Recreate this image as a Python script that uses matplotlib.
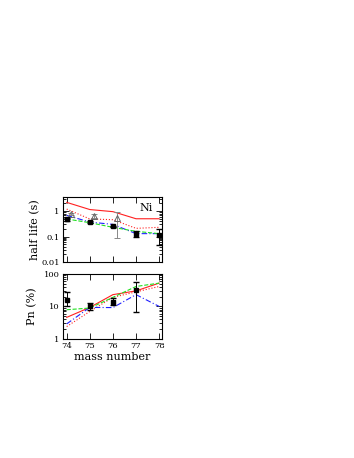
import matplotlib
matplotlib.use("Agg")
import matplotlib.pyplot as plt
from matplotlib.ticker import LogLocator, NullFormatter, FixedLocator

plt.rcParams['font.family'] = ['DejaVu Serif']

mass = [74, 75, 76, 77, 78]

# half-life (s)
hl_red = [2.2, 1.15, 0.95, 0.5, 0.5]
hl_red_dot = [1.2, 0.49, 0.46, 0.21, 0.23]
hl_blue = [0.68, 0.37, 0.30, 0.13, 0.13]
hl_green = [0.49, 0.35, 0.23, 0.16, 0.13]
hl_exp = [0.48, 0.37, 0.25, 0.125, 0.11]
hl_exp_lo = [0.42, 0.34, 0.23, 0.10, 0.046]
hl_exp_hi = [0.55, 0.40, 0.27, 0.16, 0.19]
tri_mass = [74.17, 75.17, 76.17]
tri_hl = [0.76, 0.64, 0.52]
tri_lo = [0.68, 0.55, 0.087]
tri_hi = [0.85, 0.74, 0.94]

# Pn (%)
pn_red = [4.6, 9.3, 23, 30, 52]
pn_red_dot = [2.4, 7.0, 19, 28, 41]
pn_blue = [2.9, 9.3, 9.2, 23, 10]
pn_green = [7.9, 8.9, 19, 41, 52]
pn_mass = [74, 75, 76, 77]
pn_exp = [16, 10, 14, 32]
pn_exp_lo = [10, 8, 11, 6.5]
pn_exp_hi = [27, 13, 18, 56]

fig = plt.figure(figsize=(3.54, 4.58), dpi=100)
ax1 = fig.add_axes([0.178, 0.428, 0.280, 0.142])
ax2 = fig.add_axes([0.178, 0.260, 0.280, 0.142])

lw = 0.8
red = '#ff2020'
blue = '#2020ff'
green = '#20e020'

def style(ax):
    ax.set_yscale('log')
    ax.set_xlim(73.84, 78.13)
    ax.xaxis.set_major_locator(FixedLocator(mass))
    ax.tick_params(which='both', direction='in', top=True, right=True, labelsize=6, width=0.6, pad=2.5)
    ax.tick_params(which='major', length=4)
    ax.tick_params(which='minor', length=2)
    ax.yaxis.set_minor_locator(LogLocator(base=10, subs=range(2, 10)))
    ax.yaxis.set_minor_formatter(NullFormatter())
    for s in ax.spines.values():
        s.set_linewidth(0.8)

# top panel
ax1.plot(mass, hl_red, '-', color=red, lw=lw)
ax1.plot(mass, hl_red_dot, ':', color=red, lw=lw)
ax1.plot(mass, hl_blue, '-.', color=blue, lw=lw, dashes=(5, 2, 1, 2))
ax1.plot(mass, hl_green, '--', color=green, lw=lw)
ax1.errorbar(tri_mass, tri_hl,
             yerr=[[v - l for v, l in zip(tri_hl, tri_lo)], [h - v for v, h in zip(tri_hl, tri_hi)]],
             fmt='^', mfc='none', mec='#666666', ecolor='#888888', ms=4, mew=0.7, elinewidth=0.7, capsize=2)
ax1.errorbar(mass, hl_exp,
             yerr=[[v - l for v, l in zip(hl_exp, hl_exp_lo)], [h - v for v, h in zip(hl_exp, hl_exp_hi)]],
             fmt='s', color='black', ms=3, elinewidth=0.7, capsize=2)
style(ax1)
ax1.set_ylim(0.01, 3.6)
ax1.set_yticks([0.01, 0.1, 1])
ax1.set_yticklabels(['0.01', '0.1', '1'])
ax1.set_xticklabels([])
ax1.set_ylabel('half life (s)', fontsize=8, labelpad=0.5)
ax1.text(77.15, 1.0, 'Ni', fontsize=8)

# bottom panel
ax2.plot(mass, pn_red, '-', color=red, lw=lw)
ax2.plot(mass, pn_red_dot, ':', color=red, lw=lw)
ax2.plot(mass, pn_blue, '-.', color=blue, lw=lw, dashes=(5, 2, 1, 2))
ax2.plot(mass, pn_green, '--', color=green, lw=lw)
ax2.errorbar(pn_mass, pn_exp,
             yerr=[[v - l for v, l in zip(pn_exp, pn_exp_lo)], [h - v for v, h in zip(pn_exp, pn_exp_hi)]],
             fmt='s', color='black', ms=3, elinewidth=0.7, capsize=2)
style(ax2)
ax2.set_ylim(1, 100)
ax2.set_yticks([1, 10, 100])
ax2.set_yticklabels(['1', '10', '100'])
ax2.set_xticklabels([str(m) for m in mass])
ax2.set_ylabel('Pn (%)', fontsize=8, labelpad=4.5)
ax2.set_xlabel('mass number', fontsize=8, labelpad=1)

fig.savefig('out.png', dpi=100)
